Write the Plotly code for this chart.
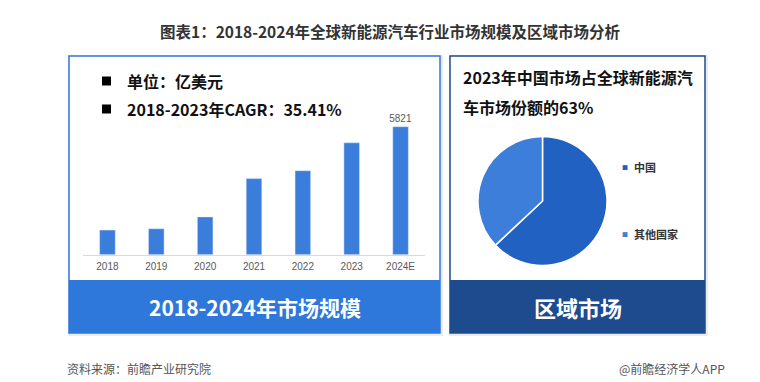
import plotly.graph_objects as go

W, H = 760, 382

# ---- data ----
years = ["2018", "2019", "2020", "2021", "2022", "2023", "2024E"]
market_size = [1120, 1180, 1720, 3460, 3820, 5090, 5821]
bar_labels = ["", "", "", "", "", "", "5821"]

regions = ["中国", "其他国家"]
region_share = [63, 37]

title_text = "图表1：2018-2024年全球新能源汽车行业市场规模及区域市场分析"
left_notes = ["单位：亿美元", "2018-2023年CAGR：35.41%"]
right_title = ["2023年中国市场占全球新能源汽", "车市场份额的63%"]
left_banner = "2018-2024年市场规模"
right_banner = "区域市场"
source_text = "资料来源：前瞻产业研究院"
brand_text = "@前瞻经济学人APP"

FONT = "Noto Sans CJK SC"
BAR_COLOR = "#3A7DDA"
PIE_COLORS = ["#2161C2", "#3C7ED9"]
LEFT_BLUE = "#2E78DB"
NAVY = "#1E4B8E"


def px(x):
    return x / W


def py(y):
    return 1 - y / H


fig = go.Figure()

# bar chart
base_y, top_y = 246.7, 110.0
top_val = 5821 * (base_y - top_y) / (base_y - 118.7)
fig.add_trace(go.Bar(
    x=years, y=market_size, marker_color=BAR_COLOR,
    text=bar_labels, textposition="outside", cliponaxis=False,
    constraintext="none",
    textfont=dict(size=10, color="#595959", family="Liberation Sans"),
    showlegend=False, hoverinfo="skip",
))

# pie
cx, cy, r = 534.5, 193.0, 64.5
fig.add_trace(go.Pie(
    labels=regions, values=region_share, sort=False, direction="clockwise",
    rotation=0, marker=dict(colors=PIE_COLORS, line=dict(color="white", width=1.5)),
    textinfo="none", showlegend=False, hoverinfo="skip",
    domain=dict(x=[px(cx - r), px(cx + r)], y=[py(cy + r), py(cy - r)]),
))

fig.update_layout(
    width=W, height=H, margin=dict(l=0, r=0, t=0, b=0),
    paper_bgcolor="white", plot_bgcolor="rgba(0,0,0,0)",
    font=dict(family=FONT), bargap=0.68,
    xaxis=dict(domain=[px(75), px(417)], range=[-0.5, 6.5], type="category",
               showline=True, linecolor="#D9D9D9", linewidth=1, showgrid=False,
               zeroline=False, ticks="", ticklabelstandoff=2,
               tickfont=dict(size=10, color="#595959", family="Liberation Sans")),
    yaxis=dict(domain=[py(base_y), py(top_y)], range=[0, top_val], visible=False),
)

shapes = []
# shadows
for x0, x1 in [(61, 432), (442, 697)]:
    shapes.append(dict(type="rect", xref="paper", yref="paper",
                       x0=px(x0 - 1), x1=px(x1 + 3), y0=py(328), y1=py(47),
                       fillcolor="#ECECEC", line=dict(width=0), layer="below"))
# left panel
shapes.append(dict(type="rect", xref="paper", yref="paper",
                   x0=px(61), x1=px(432), y0=py(325), y1=py(48),
                   fillcolor="white", line=dict(color=LEFT_BLUE, width=1.5), layer="below"))
shapes.append(dict(type="rect", xref="paper", yref="paper",
                   x0=px(61), x1=px(432), y0=py(325), y1=py(272),
                   fillcolor=LEFT_BLUE, line=dict(width=0), layer="below"))
# right panel
shapes.append(dict(type="rect", xref="paper", yref="paper",
                   x0=px(442), x1=px(697), y0=py(325), y1=py(48),
                   fillcolor="white", line=dict(color=NAVY, width=1.5), layer="below"))
shapes.append(dict(type="rect", xref="paper", yref="paper",
                   x0=px(442), x1=px(697), y0=py(325), y1=py(272),
                   fillcolor=NAVY, line=dict(width=0), layer="below"))
# bullets
for yy in (73, 101):
    shapes.append(dict(type="rect", xref="paper", yref="paper",
                       x0=px(94), x1=px(103), y0=py(yy + 4.5), y1=py(yy - 4.5),
                       fillcolor="black", line=dict(width=0)))
fig.update_layout(shapes=shapes)

ann = []
ann.append(dict(text=title_text, x=px(382), y=py(23), xref="paper", yref="paper",
                showarrow=False, xanchor="center", yanchor="middle",
                font=dict(size=15.5, color="#333333", family=FONT, weight="bold")))
for t, yy in zip(left_notes, (73, 101)):
    ann.append(dict(text=t, x=px(117), y=py(yy), xref="paper", yref="paper",
                    showarrow=False, xanchor="left", yanchor="middle",
                    font=dict(size=16, color="#111111", family=FONT, weight="bold")))
for t, yy in zip(right_title, (69, 99)):
    ann.append(dict(text=t, x=px(453), y=py(yy), xref="paper", yref="paper",
                    showarrow=False, xanchor="left", yanchor="middle",
                    font=dict(size=16, color="#111111", family=FONT, weight="bold")))
# pie legend
for lab, col, yy in zip(regions, PIE_COLORS, (159, 226)):
    ann.append(dict(text="■", x=px(617), y=py(yy), xref="paper", yref="paper",
                    showarrow=False, xanchor="center", yanchor="middle",
                    font=dict(size=6, color=col, family=FONT)))
    ann.append(dict(text=lab, x=px(624), y=py(yy), xref="paper", yref="paper",
                    showarrow=False, xanchor="left", yanchor="middle",
                    font=dict(size=11, color="#333333", family=FONT, weight="bold")))
# banners
ann.append(dict(text=left_banner, x=px(246.5), y=py(299), xref="paper", yref="paper",
                showarrow=False, xanchor="center", yanchor="middle",
                font=dict(size=21, color="white", family=FONT, weight="bold")))
ann.append(dict(text=right_banner, x=px(569.5), y=py(299), xref="paper", yref="paper",
                showarrow=False, xanchor="center", yanchor="middle",
                font=dict(size=22, color="white", family=FONT, weight="bold")))
# footer
ann.append(dict(text=source_text, x=px(57), y=py(360), xref="paper", yref="paper",
                showarrow=False, xanchor="left", yanchor="middle",
                font=dict(size=12, color="#555555", family=FONT)))
ann.append(dict(text=brand_text, x=px(719), y=py(360), xref="paper", yref="paper",
                showarrow=False, xanchor="right", yanchor="middle",
                font=dict(size=12, color="#555555", family=FONT)))
fig.update_layout(annotations=ann)

fig.write_html("out.html")
